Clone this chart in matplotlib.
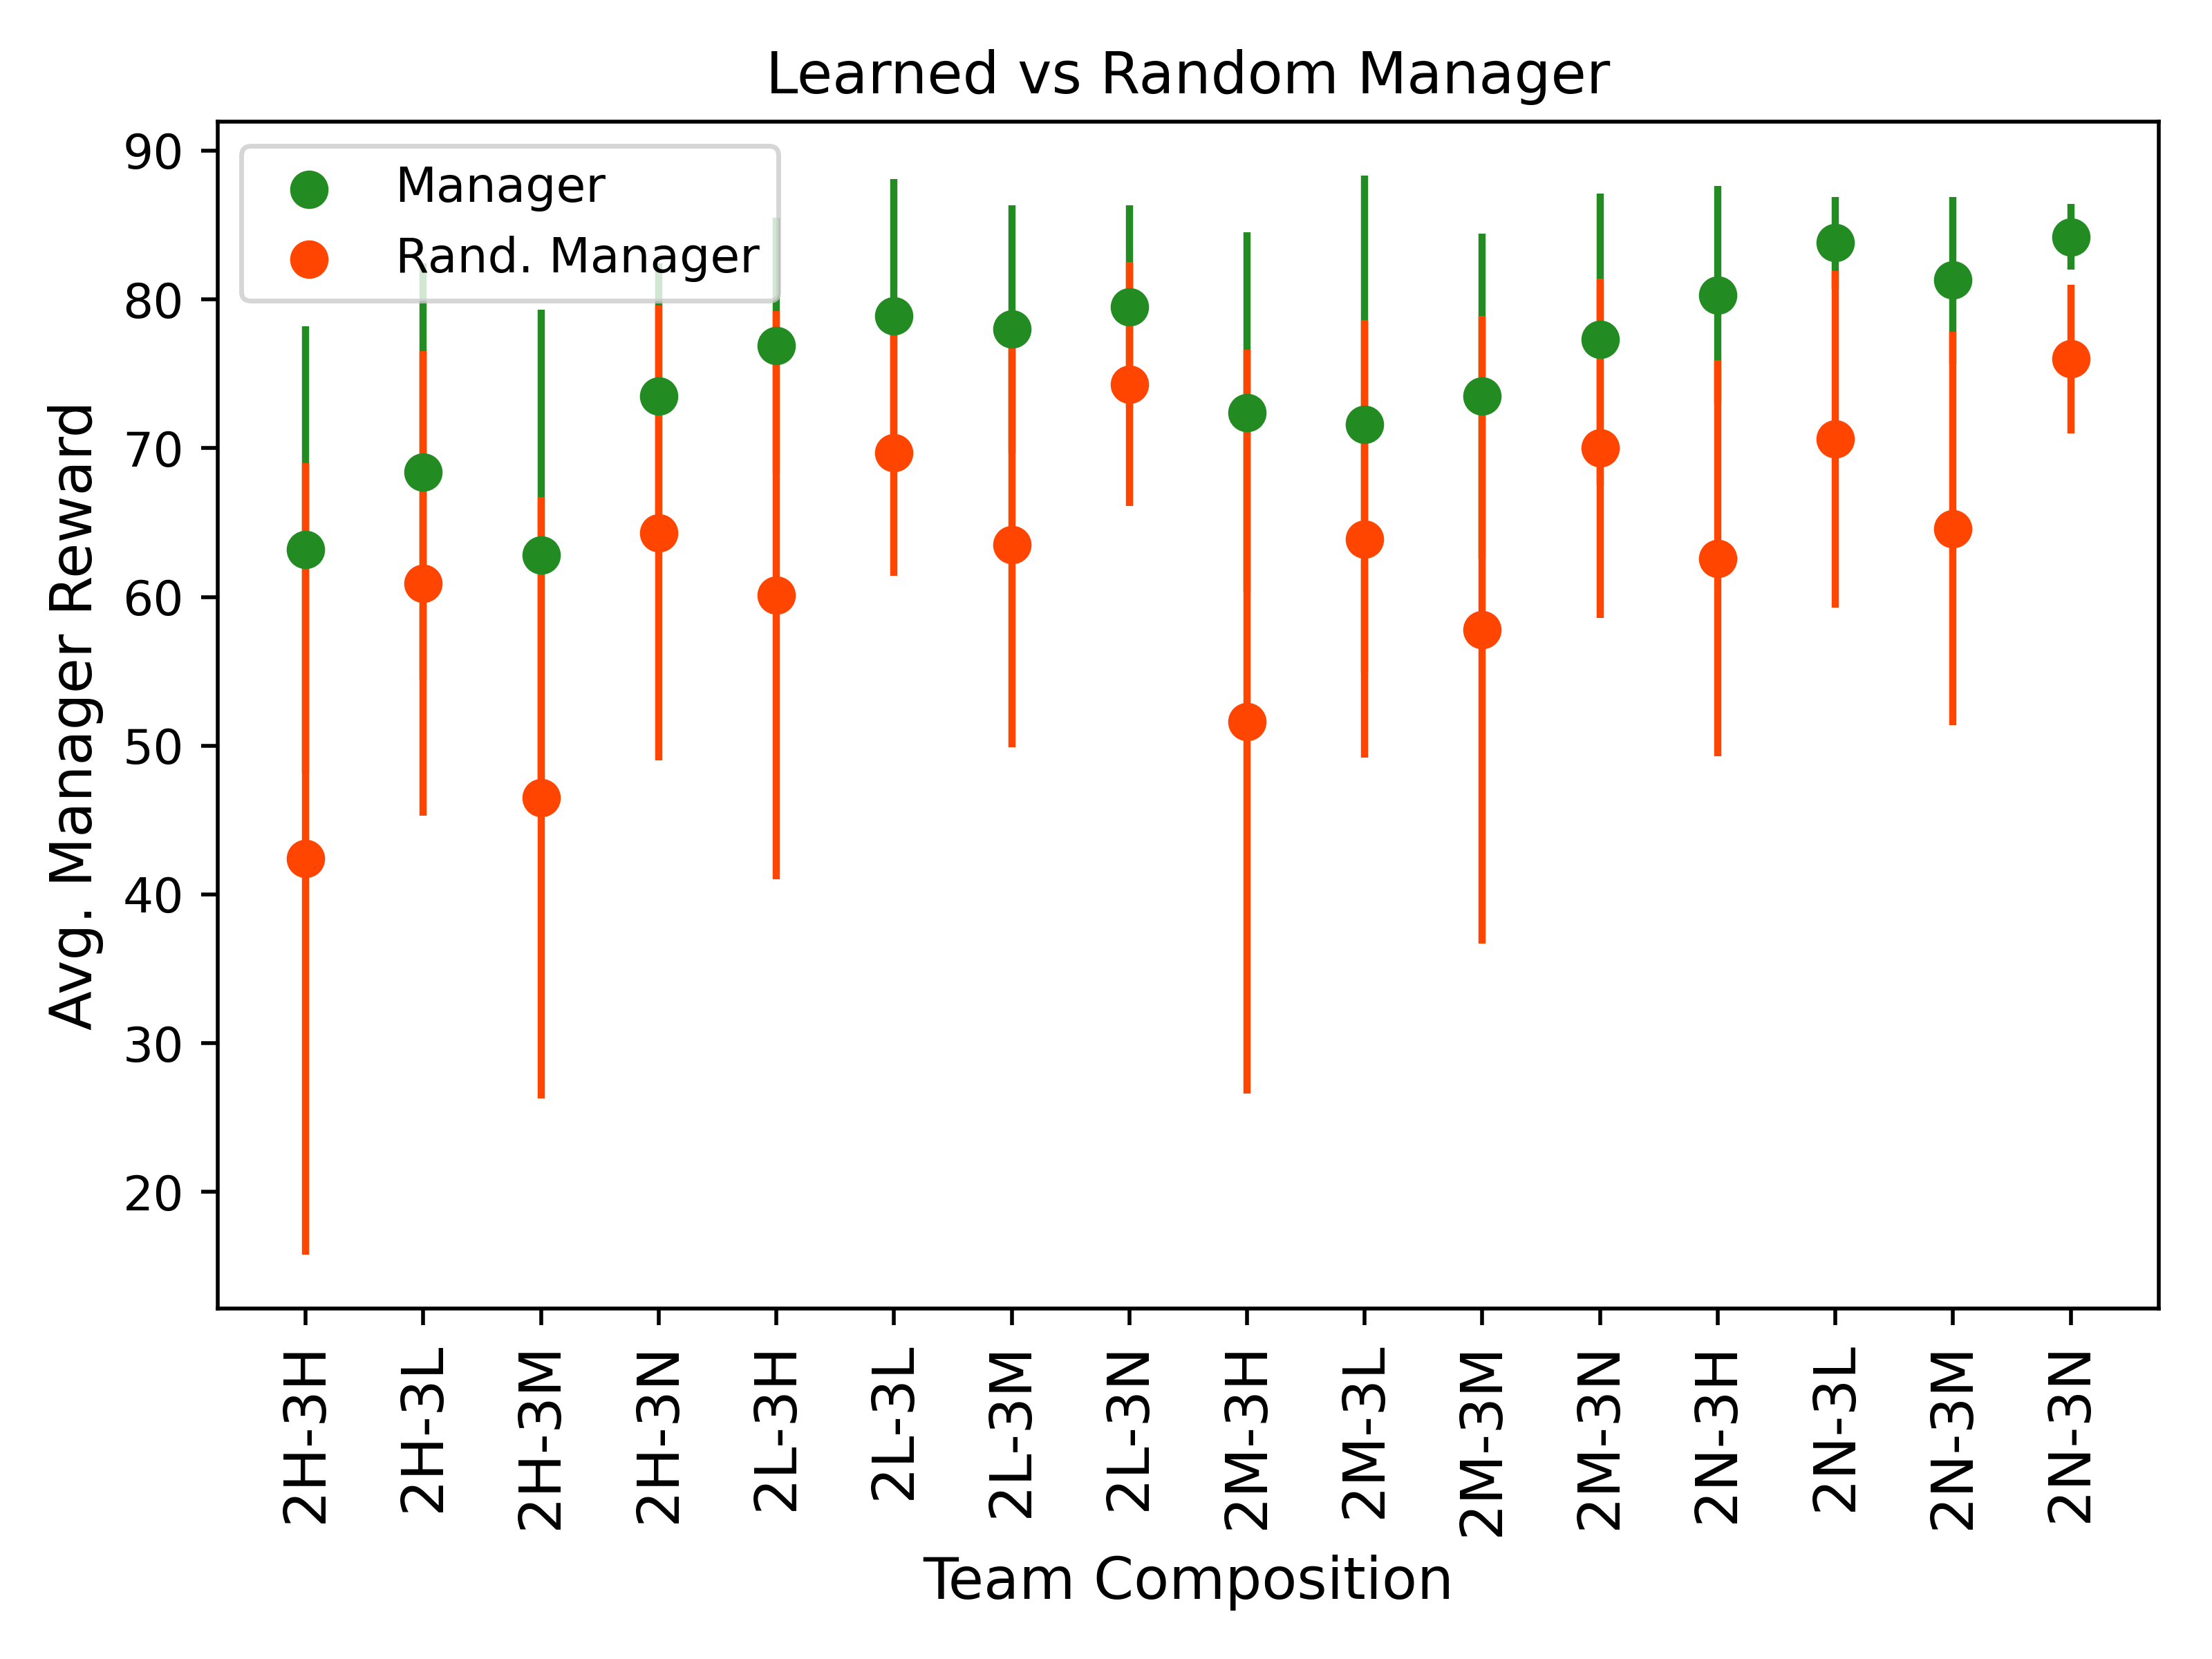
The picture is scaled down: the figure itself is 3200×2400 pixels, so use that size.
import matplotlib
matplotlib.use("Agg")
import matplotlib.pyplot as plt
import numpy as np

teams = ["2H-3H", "2H-3L", "2H-3M", "2H-3N", "2L-3H", "2L-3L", "2L-3M", "2L-3N",
         "2M-3H", "2M-3L", "2M-3M", "2M-3N", "2N-3H", "2N-3L", "2N-3M", "2N-3N"]

manager_mean = [63.2, 68.4, 62.8, 73.5, 76.9, 78.9, 78.0, 79.5,
                72.4, 71.6, 73.5, 77.3, 80.3, 83.8, 81.3, 84.2]
manager_std = [15.0, 14.0, 16.5, 8.9, 8.6, 9.2, 8.3, 6.8,
               12.1, 16.7, 10.9, 9.8, 7.3, 3.1, 5.6, 2.2]

rand_mean = [42.4, 60.9, 46.5, 64.3, 60.1, 69.7, 63.5, 74.3,
             51.6, 63.9, 57.8, 70.0, 62.6, 70.6, 64.6, 76.0]
rand_std = [26.6, 15.6, 20.2, 15.3, 19.1, 8.3, 13.6, 8.2,
            25.0, 14.7, 21.1, 11.4, 13.3, 11.3, 13.2, 5.0]

x = np.arange(len(teams))

fig = plt.figure(figsize=(6.4, 4.8), dpi=500)
ax = fig.add_subplot(111)
fig.subplots_adjust(left=0.0983, right=0.976, top=0.9265, bottom=0.2113)

ax.errorbar(x, manager_mean, yerr=manager_std, fmt="none", ecolor="forestgreen",
            elinewidth=1.5, capsize=0, zorder=2)
ax.errorbar(x, rand_mean, yerr=rand_std, fmt="none", ecolor="orangered",
            elinewidth=1.5, capsize=0, zorder=2.1)
ax.scatter(x, manager_mean, s=49, color="forestgreen", label="Manager", zorder=3)
ax.scatter(x, rand_mean, s=49, color="orangered", label="Rand. Manager", zorder=3.1)

ax.set_xticks(x)
ax.set_xticklabels(teams, rotation=90, fontsize=12)
ax.set_xlabel("Team Composition", fontsize=12)
ax.set_ylabel("Avg. Manager Reward", fontsize=12)
ax.set_title("Learned vs Random Manager", fontsize=12)
ax.legend(loc="upper left", fontsize=10)

fig.savefig("out.png", dpi=500)
